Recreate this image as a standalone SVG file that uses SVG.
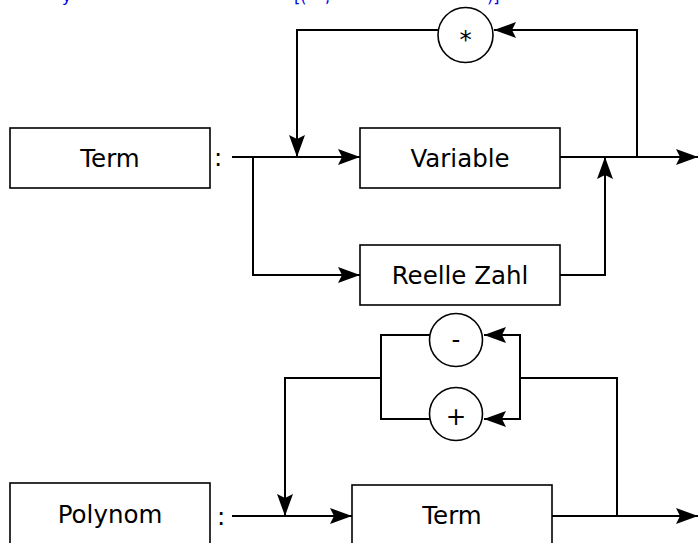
<svg xmlns="http://www.w3.org/2000/svg" width="698" height="543" viewBox="0 0 698 543">
<style>
.box{fill:#fff;stroke:#000;stroke-width:1.6}
.ell{fill:#fff;stroke:#000;stroke-width:1.6}
.t{font-family:"DejaVu Sans",sans-serif;font-size:24.5px;fill:#000;text-anchor:middle}
.c{font-family:"DejaVu Sans",sans-serif;font-size:24.5px;fill:#000}
.b{font-family:"DejaVu Sans",sans-serif;font-size:16px;fill:#0000ee}
.w{fill:none;stroke:#000;stroke-width:2}
</style>
<defs>
<marker id="ah" viewBox="0 0 22 16" refX="22" refY="8" markerWidth="22" markerHeight="16" markerUnits="userSpaceOnUse" orient="auto">
<path d="M22,8 L0,0 L4,8 L0,16 Z" fill="#000"/>
</marker>
</defs>
<rect width="698" height="543" fill="#fff"/>
<g id="header">
<text class="b" x="62" y="1.5">y</text>
<text class="b" x="294" y="1.5">[(</text>
<text class="b" x="325" y="1.5">,</text>
<text class="b" x="487" y="1.5">)]</text>
</g>
<g id="connectors">
<path class="w" d="M232,157 H360" marker-end="url(#ah)"/>
<path class="w" d="M253,157 V275 H360" marker-end="url(#ah)"/>
<path class="w" d="M560,157 H698" marker-end="url(#ah)"/>
<path class="w" d="M560,275 H605 V157" marker-end="url(#ah)"/>
<path class="w" d="M637,157 V30 H494" marker-end="url(#ah)"/>
<path class="w" d="M438,30 H297 V157" marker-end="url(#ah)"/>
<path class="w" d="M232,516 H352" marker-end="url(#ah)"/>
<path class="w" d="M381,378 H285 V516" marker-end="url(#ah)"/>
<path class="w" d="M430,335 H381 V419 H430"/>
<path class="w" d="M552,516 H698" marker-end="url(#ah)"/>
<path class="w" d="M617,516 V378 H520"/>
<path class="w" d="M520,378 V335 H484" marker-end="url(#ah)"/>
<path class="w" d="M520,378 V419 H484" marker-end="url(#ah)"/>
</g>
<g id="term-def">
<rect class="box" x="10" y="128" width="200" height="60"/>
<text class="t" x="110" y="167">Term</text>
<text class="c" x="214" y="166">:</text>
</g>
<g id="variable">
<rect class="box" x="360" y="128" width="200" height="60"/>
<text class="t" x="460" y="167">Variable</text>
</g>
<g id="reelle-zahl">
<rect class="box" x="360" y="245" width="200" height="60"/>
<text class="t" x="460" y="284">Reelle Zahl</text>
</g>
<g id="star">
<ellipse class="ell" cx="465.5" cy="35" rx="27.5" ry="27.5"/>
<text class="t" x="465.5" y="48">*</text>
</g>
<g id="polynom-def">
<rect class="box" x="10" y="483" width="200" height="62"/>
<text class="t" x="110" y="523">Polynom</text>
<text class="c" x="217" y="525">:</text>
</g>
<g id="term">
<rect class="box" x="352" y="485" width="200" height="60"/>
<text class="t" x="452" y="524">Term</text>
</g>
<g id="minus">
<circle class="ell" cx="456" cy="340" r="26.5"/>
<text class="t" x="456" y="348">-</text>
</g>
<g id="plus">
<circle class="ell" cx="456" cy="414" r="26.5"/>
<text class="t" x="456" y="425">+</text>
</g>
</svg>
